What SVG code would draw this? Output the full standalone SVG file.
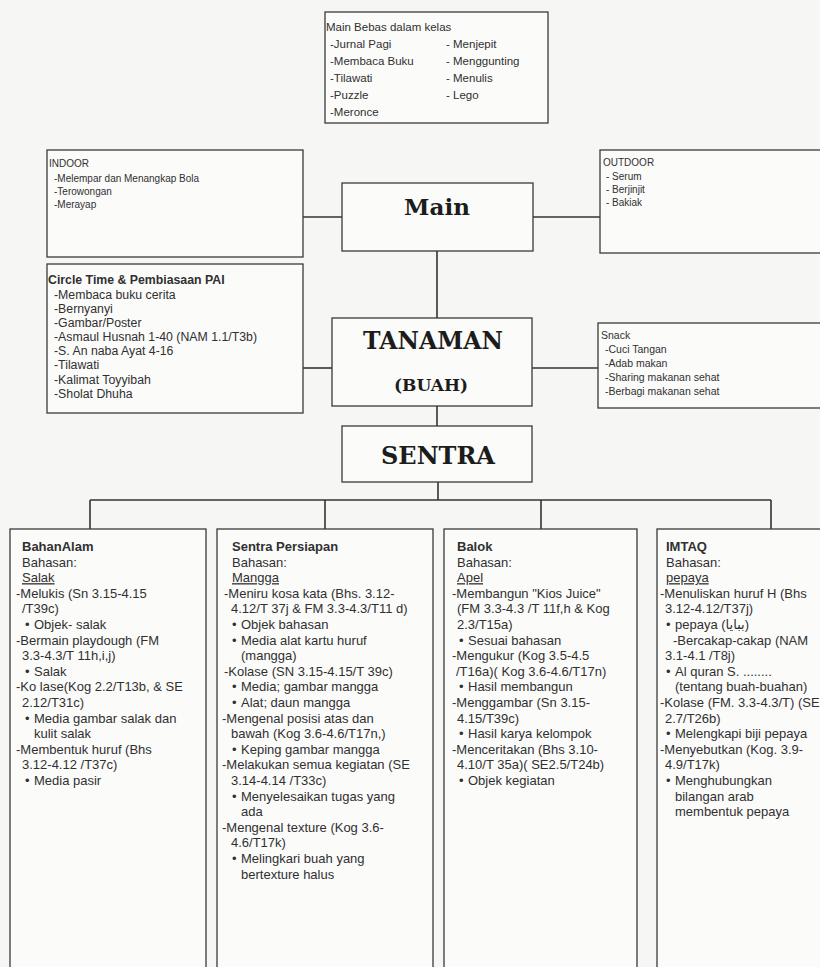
<svg xmlns="http://www.w3.org/2000/svg" width="820" height="967" viewBox="0 0 820 967">
<style>
.bg{fill:#f6f6f4}
.box{fill:#fbfbfa;stroke:#3a3a3a;stroke-width:1.3}
.ln{stroke:#333;stroke-width:1.6;fill:none}
.t{font-family:"Liberation Sans",Arial,"DejaVu Sans",sans-serif;fill:#303030}
.b{font-weight:bold}
.u{text-decoration:underline}
.top{font-size:11.5px}
.io{font-size:10px}
.ct{font-size:12.3px}
.sn{font-size:10.5px}
.col{font-size:13px}
.hd{font-family:"DejaVu Serif","Liberation Serif",serif;font-weight:bold;fill:#1c1c1c;text-anchor:middle}
</style>
<rect class="bg" x="0" y="0" width="820" height="967"/>

<g id="connectors">
<path class="ln" d="M303,217 H342"/>
<path class="ln" d="M533,217 H600"/>
<path class="ln" d="M437,251 V318"/>
<path class="ln" d="M303,368 H332"/>
<path class="ln" d="M532,368 H598"/>
<path class="ln" d="M437,406 V426"/>
<path class="ln" d="M438,482 V500"/>
<path class="ln" d="M90,500 H771"/>
<path class="ln" d="M90,500 V529"/>
<path class="ln" d="M325,500 V529"/>
<path class="ln" d="M541,500 V529"/>
<path class="ln" d="M771,500 V529"/>
</g>

<g id="main-bebas">
<rect class="box" x="325" y="12" width="223" height="111"/>
<g class="t top">
<text x="326" y="31">Main Bebas dalam kelas</text>
<text x="330" y="48">-Jurnal Pagi</text>
<text x="330" y="65">-Membaca Buku</text>
<text x="330" y="82">-Tilawati</text>
<text x="330" y="99">-Puzzle</text>
<text x="330" y="116">-Meronce</text>
<text x="446" y="48">- Menjepit</text>
<text x="446" y="65">- Menggunting</text>
<text x="446" y="82">- Menulis</text>
<text x="446" y="99">- Lego</text>
</g>
</g>

<g id="indoor">
<rect class="box" x="47" y="150" width="256" height="107"/>
<g class="t io">
<text x="49" y="167">INDOOR</text>
<text x="54" y="182">-Melempar dan Menangkap Bola</text>
<text x="54" y="195">-Terowongan</text>
<text x="54" y="208">-Merayap</text>
</g>
</g>

<g id="main">
<rect class="box" x="342" y="183" width="191" height="68"/>
<text class="hd" x="437" y="215" font-size="23">Main</text>
</g>

<g id="outdoor">
<rect class="box" x="600" y="150" width="222" height="103"/>
<g class="t io">
<text x="603" y="166">OUTDOOR</text>
<text x="606" y="180">- Serum</text>
<text x="606" y="193">- Berjinjit</text>
<text x="606" y="206">- Bakiak</text>
</g>
</g>

<g id="circle-time">
<rect class="box" x="47" y="264" width="256" height="149"/>
<g class="t ct">
<text class="b" x="48" y="284">Circle Time &amp; Pembiasaan PAI</text>
<text x="54" y="299">-Membaca buku cerita</text>
<text x="54" y="313">-Bernyanyi</text>
<text x="54" y="327">-Gambar/Poster</text>
<text x="54" y="341">-Asmaul Husnah 1-40 (NAM 1.1/T3b)</text>
<text x="54" y="355">-S. An naba Ayat 4-16</text>
<text x="54" y="369">-Tilawati</text>
<text x="54" y="383.5">-Kalimat Toyyibah</text>
<text x="54" y="398">-Sholat Dhuha</text>
</g>
</g>

<g id="tanaman">
<rect class="box" x="332" y="318" width="200" height="88"/>
<text class="hd" x="433" y="349" font-size="23.5">TANAMAN</text>
<text class="hd" x="431" y="391" font-size="17">(BUAH)</text>
</g>

<g id="snack">
<rect class="box" x="598" y="323" width="224" height="85"/>
<g class="t sn">
<text x="601" y="339">Snack</text>
<text x="605" y="353">-Cuci Tangan</text>
<text x="605" y="367">-Adab makan</text>
<text x="605" y="381">-Sharing  makanan sehat</text>
<text x="605" y="395">-Berbagi makanan sehat</text>
</g>
</g>

<g id="sentra">
<rect class="box" x="342" y="426" width="190" height="56"/>
<text class="hd" x="438" y="464" font-size="24">SENTRA</text>
</g>

<g id="col-bahanalam">
<rect class="box" x="10" y="529" width="196" height="450"/>
<g class="t col">
<text class="b" x="22" y="551">BahanAlam</text>
<text x="22" y="566.6">Bahasan:</text>
<text class="u" x="22" y="582.2">Salak</text>
<text x="16" y="597.8">-Melukis (Sn 3.15-4.15</text>
<text x="22" y="613.4">/T39c)</text>
<text x="25" y="629">•</text><text x="34" y="629">Objek- salak</text>
<text x="16" y="644.6">-Bermain playdough  (FM</text>
<text x="22" y="660.2">3.3-4.3/T 11h,i,j)</text>
<text x="25" y="675.8">•</text><text x="34" y="675.8">Salak</text>
<text x="16" y="691.4">-Ko lase(Kog 2.2/T13b, &amp; SE</text>
<text x="22" y="707">2.12/T31c)</text>
<text x="25" y="722.6">•</text><text x="34" y="722.6">Media gambar salak dan</text>
<text x="34" y="738.2">kulit salak</text>
<text x="16" y="753.8">-Membentuk huruf (Bhs</text>
<text x="22" y="769.4">3.12-4.12 /T37c)</text>
<text x="25" y="785">•</text><text x="34" y="785">Media pasir</text>
</g>
</g>

<g id="col-sentra-persiapan">
<rect class="box" x="217" y="529" width="216" height="450"/>
<g class="t col">
<text class="b" x="232" y="551">Sentra Persiapan</text>
<text x="232" y="566.6">Bahasan:</text>
<text class="u" x="232" y="582.2">Mangga</text>
<text x="224" y="597.8">-Meniru kosa  kata (Bhs. 3.12-</text>
<text x="231" y="613.4">4.12/T 37j &amp; FM 3.3-4.3/T11 d)</text>
<text x="232" y="629">•</text><text x="241" y="629">Objek bahasan</text>
<text x="232" y="644.6">•</text><text x="241" y="644.6">Media alat kartu huruf</text>
<text x="241" y="660.2">(mangga)</text>
<text x="224" y="675.8">-Kolase (SN 3.15-4.15/T 39c)</text>
<text x="232" y="691.4">•</text><text x="241" y="691.4">Media; gambar mangga</text>
<text x="232" y="707">•</text><text x="241" y="707">Alat; daun mangga</text>
<text x="222" y="722.6">-Mengenal posisi atas dan</text>
<text x="231" y="738.2">bawah (Kog 3.6-4.6/T17n,)</text>
<text x="232" y="753.8">•</text><text x="241" y="753.8">Keping gambar mangga</text>
<text x="222" y="769.4">-Melakukan semua kegiatan (SE</text>
<text x="231" y="785">3.14-4.14 /T33c)</text>
<text x="232" y="800.6">•</text><text x="241" y="800.6">Menyelesaikan tugas yang</text>
<text x="241" y="816.2">ada</text>
<text x="222" y="831.8">-Mengenal texture (Kog 3.6-</text>
<text x="231" y="847.4">4.6/T17k)</text>
<text x="232" y="863">•</text><text x="241" y="863">Melingkari buah yang</text>
<text x="241" y="878.6">bertexture halus</text>
</g>
</g>

<g id="col-balok">
<rect class="box" x="444" y="529" width="193" height="450"/>
<g class="t col">
<text class="b" x="457" y="551">Balok</text>
<text x="457" y="566.6">Bahasan:</text>
<text class="u" x="457" y="582.2">Apel</text>
<text x="452" y="597.8">-Membangun "Kios Juice"</text>
<text x="457" y="613.4">(FM 3.3-4.3 /T 11f,h &amp; Kog</text>
<text x="457" y="629">2.3/T15a)</text>
<text x="459" y="644.6">•</text><text x="468" y="644.6">Sesuai bahasan</text>
<text x="452" y="660.2">-Mengukur (Kog  3.5-4.5</text>
<text x="456" y="675.8">/T16a)( Kog  3.6-4.6/T17n)</text>
<text x="459" y="691.4">•</text><text x="468" y="691.4">Hasil membangun</text>
<text x="452" y="707">-Menggambar (Sn  3.15-</text>
<text x="457" y="722.6">4.15/T39c)</text>
<text x="459" y="738.2">•</text><text x="468" y="738.2">Hasil karya kelompok</text>
<text x="452" y="753.8">-Menceritakan (Bhs 3.10-</text>
<text x="457" y="769.4">4.10/T 35a)( SE2.5/T24b)</text>
<text x="459" y="785">•</text><text x="468" y="785">Objek kegiatan</text>
</g>
</g>

<g id="col-imtaq">
<rect class="box" x="657" y="529" width="170" height="450"/>
<g class="t col">
<text class="b" x="666" y="551">IMTAQ</text>
<text x="666" y="566.6">Bahasan:</text>
<text class="u" x="666" y="582.2">pepaya</text>
<text x="660" y="597.8">-Menuliskan huruf  H (Bhs</text>
<text x="665" y="613.4">3.12-4.12/T37j)</text>
<text x="666" y="629">•</text><text x="675" y="629">pepaya (ببايا)</text>
<text x="673" y="644.6">-Bercakap-cakap (NAM</text>
<text x="665" y="660.2">3.1-4.1 /T8j)</text>
<text x="666" y="675.8">•</text><text x="675" y="675.8">Al quran S. ........</text>
<text x="675" y="691.4">(tentang buah-buahan)</text>
<text x="660" y="707">-Kolase (FM. 3.3-4.3/T) (SE</text>
<text x="665" y="722.6">2.7/T26b)</text>
<text x="666" y="738.2">•</text><text x="675" y="738.2">Melengkapi biji pepaya</text>
<text x="660" y="753.8">-Menyebutkan (Kog. 3.9-</text>
<text x="665" y="769.4">4.9/T17k)</text>
<text x="666" y="785">•</text><text x="675" y="785">Menghubungkan</text>
<text x="675" y="800.6">bilangan arab</text>
<text x="675" y="816.2">membentuk pepaya</text>
</g>
</g>
</svg>
